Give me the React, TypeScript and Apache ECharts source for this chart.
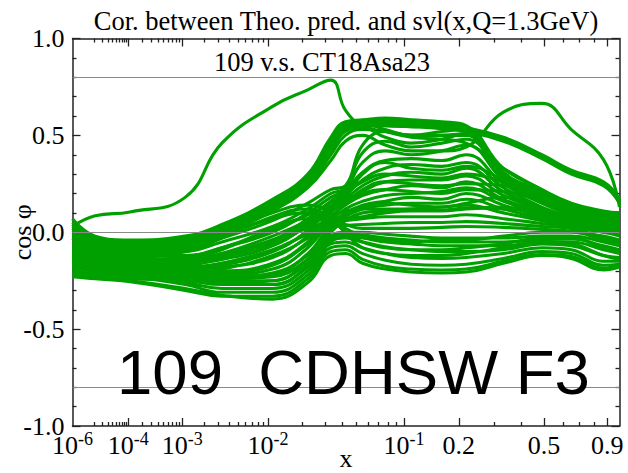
import React, { useEffect, useRef } from "react";
import * as echarts from "echarts";

// Sample positions in x shared by every correlation curve
const X_VALUES = [1e-6, 1.1e-5, 1.1e-4, 1.1e-3, 3.3e-3, 0.011, 0.022, 0.033, 0.042, 0.055, 0.077, 0.11, 0.163, 0.218, 0.33, 0.49, 0.65, 0.87, 1.0];

// cos(phi) per curve at X_VALUES
const peakEarly = [0.03, 0.085, 0.105, 0.18, 0.46, 0.65, 0.735, 0.785, 0.63, 0.55, 0.52, 0.49, 0.48, 0.46, 0.33, 0.22, 0.15, 0.11, 0.10];

const plateau1 = [0.07, -0.02, -0.04, -0.02, 0.04, 0.17, 0.30, 0.49, 0.57, 0.58, 0.59, 0.58, 0.57, 0.55, 0.33, 0.22, 0.14, 0.105, 0.10];
const plateau2 = [0.05, -0.03, -0.05, -0.03, 0.03, 0.16, 0.29, 0.47, 0.56, 0.575, 0.58, 0.575, 0.565, 0.54, 0.31, 0.21, 0.13, 0.10, 0.09];
const plateau3 = [0.04, -0.04, -0.06, -0.04, 0.02, 0.15, 0.28, 0.46, 0.55, 0.56, 0.53, 0.50, 0.52, 0.53, 0.30, 0.20, 0.12, 0.09, 0.08];
const plateau4 = [0.02, -0.05, -0.07, -0.05, 0.01, 0.14, 0.27, 0.44, 0.54, 0.555, 0.55, 0.545, 0.545, 0.52, 0.29, 0.19, 0.115, 0.085, 0.075];
const plateau5 = [0.0, -0.06, -0.08, -0.06, 0.0, 0.13, 0.26, 0.42, 0.52, 0.54, 0.49, 0.46, 0.48, 0.51, 0.28, 0.18, 0.11, 0.08, 0.07];
const plateau6 = [-0.02, -0.07, -0.09, -0.07, -0.01, 0.12, 0.24, 0.40, 0.50, 0.53, 0.52, 0.50, 0.50, 0.50, 0.27, 0.17, 0.10, 0.075, 0.065];

const shoulder1 = [0.03, -0.04, -0.06, -0.03, 0.03, 0.15, 0.28, 0.46, 0.55, 0.565, 0.57, 0.565, 0.555, 0.54, 0.49, 0.40, 0.32, 0.26, 0.17];
const shoulder2 = [0.01, -0.05, -0.07, -0.04, 0.02, 0.14, 0.27, 0.45, 0.54, 0.555, 0.56, 0.555, 0.545, 0.53, 0.48, 0.39, 0.31, 0.25, 0.16];
const shoulder3 = [-0.01, -0.06, -0.08, -0.05, 0.01, 0.13, 0.26, 0.43, 0.53, 0.545, 0.55, 0.545, 0.535, 0.52, 0.47, 0.38, 0.30, 0.24, 0.15];

const lateBump = [-0.03, -0.08, -0.09, -0.07, -0.01, 0.11, 0.23, 0.37, 0.47, 0.50, 0.45, 0.42, 0.42, 0.44, 0.62, 0.665, 0.53, 0.375, 0.13];

const lens1 = [-0.03, -0.09, -0.10, -0.08, -0.03, 0.06, 0.15, 0.22, 0.24, 0.45, 0.52, 0.50, 0.50, 0.51, 0.30, 0.19, 0.12, 0.08, 0.07];
const lens2 = [-0.05, -0.10, -0.11, -0.10, -0.05, 0.03, 0.12, 0.20, 0.23, 0.41, 0.47, 0.44, 0.46, 0.48, 0.29, 0.17, 0.11, 0.07, 0.06];
const lens3 = [-0.08, -0.11, -0.12, -0.12, -0.08, 0.0, 0.10, 0.18, 0.22, 0.36, 0.42, 0.40, 0.42, 0.45, 0.27, 0.16, 0.10, 0.06, 0.05];
const lens4 = [-0.10, -0.12, -0.13, -0.14, -0.11, -0.04, 0.07, 0.16, 0.21, 0.31, 0.37, 0.38, 0.37, 0.40, 0.25, 0.15, 0.09, 0.05, 0.04];
const lens5 = [-0.09, -0.13, -0.14, -0.16, -0.14, -0.07, 0.04, 0.14, 0.19, 0.27, 0.33, 0.35, 0.34, 0.36, 0.23, 0.13, 0.08, 0.05, 0.03];
const lens6 = [-0.11, -0.14, -0.15, -0.18, -0.16, -0.10, 0.01, 0.12, 0.17, 0.24, 0.29, 0.31, 0.30, 0.33, 0.21, 0.12, 0.07, 0.04, 0.03];
const lens7 = [-0.13, -0.15, -0.16, -0.19, -0.18, -0.13, -0.02, 0.10, 0.16, 0.21, 0.26, 0.27, 0.27, 0.29, 0.19, 0.11, 0.06, 0.03, 0.02];
const lens8 = [-0.12, -0.16, -0.17, -0.20, -0.20, -0.16, -0.05, 0.08, 0.14, 0.19, 0.22, 0.24, 0.23, 0.26, 0.17, 0.10, 0.05, 0.03, 0.02];
const lens9 = [-0.14, -0.17, -0.18, -0.21, -0.22, -0.19, -0.08, 0.06, 0.12, 0.16, 0.19, 0.20, 0.21, 0.23, 0.16, 0.09, 0.05, 0.02, 0.01];
const lens10 = [-0.16, -0.18, -0.19, -0.22, -0.24, -0.22, -0.11, 0.04, 0.10, 0.14, 0.16, 0.18, 0.17, 0.20, 0.14, 0.08, 0.04, 0.02, 0.01];
const lens11 = [-0.15, -0.19, -0.20, -0.23, -0.25, -0.25, -0.14, 0.02, 0.08, 0.12, 0.14, 0.15, 0.15, 0.17, 0.12, 0.07, 0.04, 0.01, 0.0];
const lens12 = [-0.17, -0.20, -0.21, -0.24, -0.26, -0.27, -0.17, 0.0, 0.06, 0.10, 0.11, 0.12, 0.13, 0.14, 0.10, 0.06, 0.03, 0.0, -0.01];

const broad1 = [-0.13, -0.16, -0.17, -0.17, -0.13, -0.06, 0.03, 0.11, 0.15, 0.22, 0.26, 0.25, 0.24, 0.25, 0.24, 0.15, 0.09, 0.05, 0.04];
const broad2 = [-0.11, -0.15, -0.16, -0.15, -0.11, -0.02, 0.06, 0.13, 0.18, 0.30, 0.36, 0.33, 0.32, 0.34, 0.27, 0.175, 0.10, 0.06, 0.05];
const broad3 = [-0.16, -0.19, -0.20, -0.21, -0.19, -0.12, -0.03, 0.06, 0.09, 0.13, 0.15, 0.14, 0.13, 0.15, 0.18, 0.12, 0.07, 0.035, 0.02];
const broad4 = [-0.12, -0.15, -0.165, -0.20, -0.21, -0.17, -0.06, 0.04, 0.07, 0.08, 0.10, 0.11, 0.11, 0.12, 0.13, 0.09, 0.055, 0.02, 0.0];
const broad5 = [-0.09, -0.13, -0.14, -0.13, -0.08, 0.01, 0.09, 0.15, 0.20, 0.26, 0.30, 0.29, 0.28, 0.30, 0.26, 0.20, 0.125, 0.08, 0.06];
const broad6 = [-0.11, -0.14, -0.15, -0.16, -0.13, -0.05, 0.05, 0.12, 0.16, 0.20, 0.22, 0.21, 0.20, 0.22, 0.21, 0.16, 0.10, 0.06, 0.045];
const broad7 = [-0.13, -0.17, -0.18, -0.19, -0.17, -0.10, 0.0, 0.08, 0.11, 0.12, 0.12, 0.12, 0.115, 0.125, 0.12, 0.10, 0.065, 0.03, 0.01];

const low1 = [-0.21, -0.235, -0.25, -0.29, -0.325, -0.345, -0.26, -0.12, -0.11, -0.16, -0.19, -0.205, -0.21, -0.205, -0.16, -0.12, -0.135, -0.195, -0.18];
const low2 = [-0.23, -0.24, -0.255, -0.30, -0.33, -0.33, -0.24, -0.10, -0.09, -0.14, -0.175, -0.19, -0.195, -0.19, -0.15, -0.115, -0.125, -0.185, -0.17];
const low3 = [-0.19, -0.22, -0.23, -0.27, -0.31, -0.31, -0.22, -0.08, -0.07, -0.11, -0.145, -0.165, -0.17, -0.165, -0.135, -0.10, -0.11, -0.17, -0.165];
const low4 = [-0.20, -0.215, -0.22, -0.26, -0.29, -0.29, -0.20, -0.06, -0.05, -0.08, -0.11, -0.13, -0.135, -0.13, -0.11, -0.08, -0.09, -0.15, -0.15];
const low5 = [-0.22, -0.23, -0.24, -0.25, -0.27, -0.27, -0.18, -0.05, -0.03, -0.05, -0.075, -0.09, -0.10, -0.10, -0.09, -0.06, -0.07, -0.12, -0.13];
const low6 = [-0.17, -0.205, -0.215, -0.24, -0.26, -0.25, -0.16, -0.04, -0.02, -0.03, -0.05, -0.06, -0.07, -0.07, -0.07, -0.05, -0.05, -0.09, -0.11];
const low7 = [-0.15, -0.19, -0.20, -0.23, -0.24, -0.23, -0.14, -0.03, -0.01, -0.015, -0.03, -0.04, -0.05, -0.05, -0.05, -0.04, -0.035, -0.07, -0.09];
const low8 = [-0.18, -0.20, -0.21, -0.22, -0.23, -0.21, -0.12, -0.02, 0.0, 0.0, -0.01, -0.02, -0.03, -0.03, -0.03, -0.02, -0.02, -0.05, -0.07];

const dip1 = [-0.05, -0.09, -0.10, -0.08, -0.01, 0.10, 0.14, 0.10, 0.0, -0.08, -0.11, -0.12, -0.12, -0.11, -0.08, -0.05, -0.06, -0.12, -0.14];
const dip2 = [-0.07, -0.11, -0.12, -0.10, -0.03, 0.08, 0.12, 0.07, 0.0, -0.05, -0.08, -0.09, -0.09, -0.08, -0.06, -0.03, -0.03, -0.08, -0.10];
const dip3 = [-0.06, -0.10, -0.11, -0.09, -0.02, 0.07, 0.10, 0.06, 0.02, -0.02, -0.04, -0.05, -0.04, -0.04, -0.02, 0.0, 0.0, -0.04, -0.06];

const flat1 = [-0.12, -0.15, -0.16, -0.16, -0.12, -0.04, 0.02, 0.05, 0.06, 0.07, 0.08, 0.08, 0.08, 0.09, 0.07, 0.045, 0.025, 0.0, -0.02];
const flat2 = [-0.14, -0.17, -0.18, -0.19, -0.16, -0.09, -0.01, 0.03, 0.035, 0.04, 0.045, 0.05, 0.05, 0.055, 0.045, 0.03, 0.02, -0.03, -0.05];
const flat3 = [-0.10, -0.14, -0.15, -0.14, -0.09, 0.02, 0.07, 0.06, 0.04, 0.02, 0.02, 0.02, 0.025, 0.03, 0.025, 0.015, 0.005, -0.02, -0.04];

const CURVES = [
  low1, low2, low3, low4, low5, low6, low7, low8,
  dip1, dip2, dip3, flat1, flat2, flat3,
  broad7, broad4, broad3, broad6, broad1, broad5, broad2,
  lens12, lens11, lens10, lens9, lens8, lens7, lens6, lens5, lens4, lens3, lens2, lens1,
  plateau6, plateau5, plateau4, plateau3, plateau2, plateau1,
  shoulder3, shoulder2, shoulder1, lateBump, peakEarly,
];

// Axis decorations
const X_LABEL_VALUES = [1e-6, 1e-4, 1e-3, 1e-2, 0.1, 0.2, 0.5, 0.9];
const X_LABEL_TEXTS = ["{b|10}{s|-6}", "{b|10}{s|-4}", "{b|10}{s|-3}", "{b|10}{s|-2}", "{b|10}{s|-1}", "{b|0.2}", "{b|0.5}", "{b|0.9}"];
const X_MAJOR_TICKS = [1e-4, 1e-3, 1e-2, 0.1, 0.2, 0.5, 0.9];
const X_MINOR_TICKS = [
  1e-5, 2e-5, 3e-5, 4e-5, 5e-5, 6e-5, 7e-5, 8e-5, 9e-5,
  2e-4, 3e-4, 4e-4, 5e-4, 6e-4, 7e-4, 8e-4, 9e-4,
  2e-3, 3e-3, 4e-3, 5e-3, 6e-3, 7e-3, 8e-3, 9e-3,
  0.02, 0.03, 0.04, 0.05, 0.06, 0.07, 0.08, 0.09,
  0.3, 0.4, 0.6, 0.7, 0.8,
];
const REFERENCE_LINES = [0.8, 0, -0.8];

const TITLE = "Cor. between Theo. pred. and svl(x,Q=1.3GeV)";
const SUBTITLE = "109 v.s. CT18Asa23";
const EXPERIMENT = "109  CDHSW F3";

const SERIF = "'Liberation Serif', 'Times New Roman', serif";
const SANS = "'Liberation Sans', Arial, sans-serif";
const FRAME = "#222";
const GREEN = "#00a000";

// x axis is drawn on a power scale x^0.2
const warp = (x: number) => Math.pow(x, 0.2);
const X_MIN = warp(1e-6);
const X_MAX = 1;

export default function App() {
  const ref = useRef<HTMLDivElement>(null);

  useEffect(() => {
    if (!ref.current) return;
    const chart = echarts.init(ref.current, undefined, { renderer: "svg" });

    const labelFor = (v: number) => {
      for (let i = 0; i < X_LABEL_VALUES.length; i++) {
        if (Math.abs(warp(X_LABEL_VALUES[i]) - v) < 1e-6) return X_LABEL_TEXTS[i];
      }
      return "";
    };

    const xBase = {
      type: "value" as const,
      min: X_MIN,
      max: X_MAX,
      splitLine: { show: false },
    };
    const tickStyle = { color: FRAME, width: 1.3 };
    const hiddenLine = { show: false, onZero: false };
    const frameLine = { show: true, onZero: false, lineStyle: { color: FRAME, width: 1.5 } };

    const curveSeries = CURVES.map((ys) => ({
      type: "line" as const,
      data: X_VALUES.map((x, i) => [warp(x), ys[i]]),
      smooth: 0.45,
      showSymbol: false,
      silent: true,
      z: 2,
      lineStyle: { color: GREEN, width: 3.1 },
    }));

    chart.setOption({
      animation: false,
      backgroundColor: "#fff",
      grid: { left: 72.5, right: 8.5, top: 38.5, bottom: 47, containLabel: false, outerBoundsMode: "none" },
      xAxis: [
        {
          ...xBase,
          position: "bottom",
          axisLine: frameLine,
          axisTick: { show: true, inside: true, length: 8, customValues: X_MAJOR_TICKS.map(warp), lineStyle: tickStyle },
          axisLabel: {
            show: true,
            customValues: X_LABEL_VALUES.map(warp),
            formatter: labelFor,
            margin: 4,
            color: "#000",
            rich: {
              b: { fontFamily: SERIF, fontSize: 26, lineHeight: 30, color: "#000" },
              s: { fontFamily: SERIF, fontSize: 18, lineHeight: 18, verticalAlign: "top", color: "#000" },
            },
          },
          name: "x",
          nameLocation: "middle",
          nameGap: 19,
          nameMoveOverlap: false,
          nameTextStyle: { fontFamily: SERIF, fontSize: 26, color: "#000" },
        },
        {
          ...xBase,
          position: "bottom",
          axisLine: hiddenLine,
          axisTick: { show: true, inside: true, length: 4, customValues: X_MINOR_TICKS.map(warp), lineStyle: tickStyle },
          axisLabel: { show: false },
        },
        {
          ...xBase,
          position: "top",
          axisLine: frameLine,
          axisTick: { show: true, inside: true, length: 8, customValues: X_MAJOR_TICKS.map(warp), lineStyle: tickStyle },
          axisLabel: { show: false },
        },
        {
          ...xBase,
          position: "top",
          axisLine: hiddenLine,
          axisTick: { show: true, inside: true, length: 4, customValues: X_MINOR_TICKS.map(warp), lineStyle: tickStyle },
          axisLabel: { show: false },
        },
      ],
      yAxis: [
        {
          type: "value",
          min: -1,
          max: 1,
          interval: 0.5,
          position: "left",
          axisLine: frameLine,
          axisTick: { show: true, inside: true, length: 8, lineStyle: tickStyle },
          minorTick: { show: true, splitNumber: 5, length: 4, lineStyle: tickStyle },
          splitLine: { show: false },
          minorSplitLine: { show: false },
          axisLabel: {
            formatter: (v: number) => v.toFixed(1),
            fontFamily: SERIF,
            fontSize: 26,
            color: "#000",
            margin: 8,
          },
          name: "cos φ",
          nameLocation: "middle",
          nameGap: 37,
          nameRotate: 90,
          nameMoveOverlap: false,
          nameTextStyle: { fontFamily: SERIF, fontSize: 26, color: "#000" },
        },
        {
          type: "value",
          min: -1,
          max: 1,
          interval: 0.5,
          position: "right",
          axisLine: frameLine,
          axisTick: { show: true, inside: true, length: 8, lineStyle: tickStyle },
          minorTick: { show: true, splitNumber: 5, length: 4, lineStyle: tickStyle },
          splitLine: { show: false },
          axisLabel: { show: false },
        },
      ],
      series: [
        ...curveSeries,
        {
          type: "line",
          data: [],
          z: 5,
          silent: true,
          markLine: {
            silent: true,
            symbol: ["none", "none"],
            label: { show: false },
            lineStyle: { color: "#8a8a8a", width: 1.2, type: "solid" },
            data: REFERENCE_LINES.map((v) => ({ yAxis: v })),
          },
        },
      ],
      graphic: [
        {
          type: "text",
          x: 346,
          y: 21,
          style: { text: TITLE, fontFamily: SERIF, fontSize: 26.5, fill: "#000", align: "center", verticalAlign: "middle" },
        },
        {
          type: "text",
          x: 322,
          y: 62,
          style: { text: SUBTITLE, fontFamily: SERIF, fontSize: 26.5, fill: "#000", align: "center", verticalAlign: "middle" },
          z: 10,
        },
        {
          type: "text",
          x: 117,
          y: 372,
          style: { text: EXPERIMENT, fontFamily: SANS, fontSize: 63.5, fill: "#000", align: "left", verticalAlign: "middle" },
          z: 10,
        },
      ],
    });

    return () => chart.dispose();
  }, []);

  return (
    <div
      ref={ref}
      style={{ position: "fixed", left: 0, top: 0, width: 628, height: 473, background: "#fff" }}
    />
  );
}
